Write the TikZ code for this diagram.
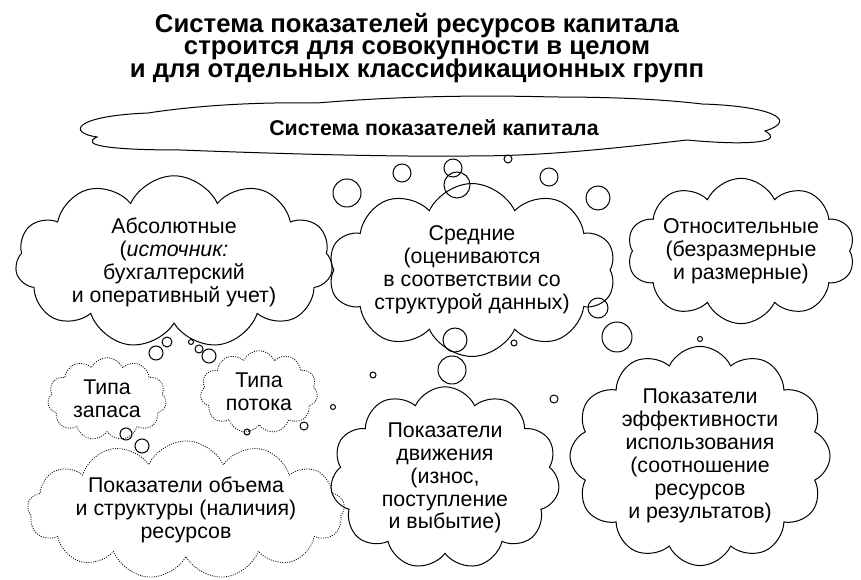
\documentclass[tikz,border=0pt]{standalone}
\usepackage{fontspec}
\setmainfont{Liberation Sans}
\usetikzlibrary{shapes.symbols}
\newcommand{\titlefont}{\bfseries\fontsize{19.3}{16.9}\selectfont\lineskiplimit=-20pt\relax}

\begin{document}
\begin{tikzpicture}[x=0.75pt,y=0.75pt,yscale=-1,xscale=1,
  cloudbox/.style={draw, cloud, cloud ignores aspect, cloud puff arc=130, inner sep=0pt, align=center, line width=0.75pt, font=\fontsize{16}{17.2}\selectfont},
  dotcloud/.style={cloudbox, densely dotted, line width=0.6pt},
  bubble/.style={line width=0.75pt}]
\path[use as bounding box] (0,0) rectangle (861,580);

% Text Node
\draw (417,13) node [anchor=north, inner sep=0pt, align=center, font=\titlefont] (title) {Система показателей ресурсов капитала\\строится для совокупности в целом\\и для отдельных классификационных групп};

%Shape: Cloud
\draw [line width=0.75pt] (97,137) .. controls (68,133) and (72,116) .. (148,113)
  .. controls (200,105) and (260,102) .. (317,103)
  .. controls (400,96) and (480,95) .. (553,97)
  .. controls (610,97) and (660,99) .. (702,104)
  .. controls (770,106) and (800,120) .. (765,131)
  .. controls (785,142) and (750,146) .. (687,140)
  .. controls (600,150) and (540,156) .. (470,156)
  .. controls (380,157) and (260,153) .. (180,150)
  .. controls (115,150) and (78,146) .. (97,137) -- cycle ;
% Text Node
\draw (434,128) node [font=\bfseries\fontsize{16}{18}\selectfont] (total) {Система показателей капитала};

%Shape: Cloud
\draw (174,262) node [cloudbox, cloud puffs=11, minimum width=238pt, minimum height=115pt] (absol) {Абсолютные\\(\textit{источник:}\\бухгалтерский\\и оперативный учет)};
%Shape: Cloud
\draw (472,270) node [cloudbox, cloud puffs=10, minimum width=203pt, minimum height=101pt] (avg) {Средние\\(оцениваются\\в соответствии со\\структурой данных)};
%Shape: Cloud
\draw (741,251) node [cloudbox, cloud puffs=10, minimum width=163pt, minimum height=109pt] (relat) {Относительные\\(безразмерные\\и размерные)};
%Shape: Cloud
\draw (107,399) node [dotcloud, cloud puffs=11, minimum width=89pt, minimum height=62pt] (stock) {Типа\\запаса};
%Shape: Cloud
\draw (259,392) node [dotcloud, cloud puffs=11, minimum width=88pt, minimum height=62pt] (flow) {Типа\\потока};
%Shape: Cloud
\draw (186,510) node [dotcloud, cloud puffs=13, minimum width=204pt, minimum height=82pt] (volume) {Показатели объема\\и структуры (наличия)\\ресурсов};
%Shape: Cloud
\draw (445,478) node [cloudbox, cloud puffs=11, minimum width=172pt, minimum height=131pt] (motion) {Показатели\\движения\\(износ,\\поступление\\и выбытие)};
%Shape: Cloud
\draw (700,456) node [cloudbox, cloud puffs=12, minimum width=195pt, minimum height=159pt] (effic) {Показатели\\эффективности\\использования\\(соотношение\\ресурсов\\и результатов)};

%Shape: Circle
\foreach \cx/\cy/\cr in {347/193/14, 402/173/9, 453/168/9, 457/185/13, 508/159/4, 549/177/9, 598/198/12,
  598/308/10, 617/337/15, 700/339/2.5, 455/340/12, 514/343/3, 452/370/14, 373/375/3, 554/399/4, 333/407/2.5,
  167/342/5, 156/353/7, 191/342/2.5, 199/349/4, 209/356/7, 304/426/4, 247/432/3, 126/434/6, 142/446/7}
  \draw [bubble] (\cx,\cy) circle [radius={\cr*0.75pt}];

\end{tikzpicture}
\end{document}
